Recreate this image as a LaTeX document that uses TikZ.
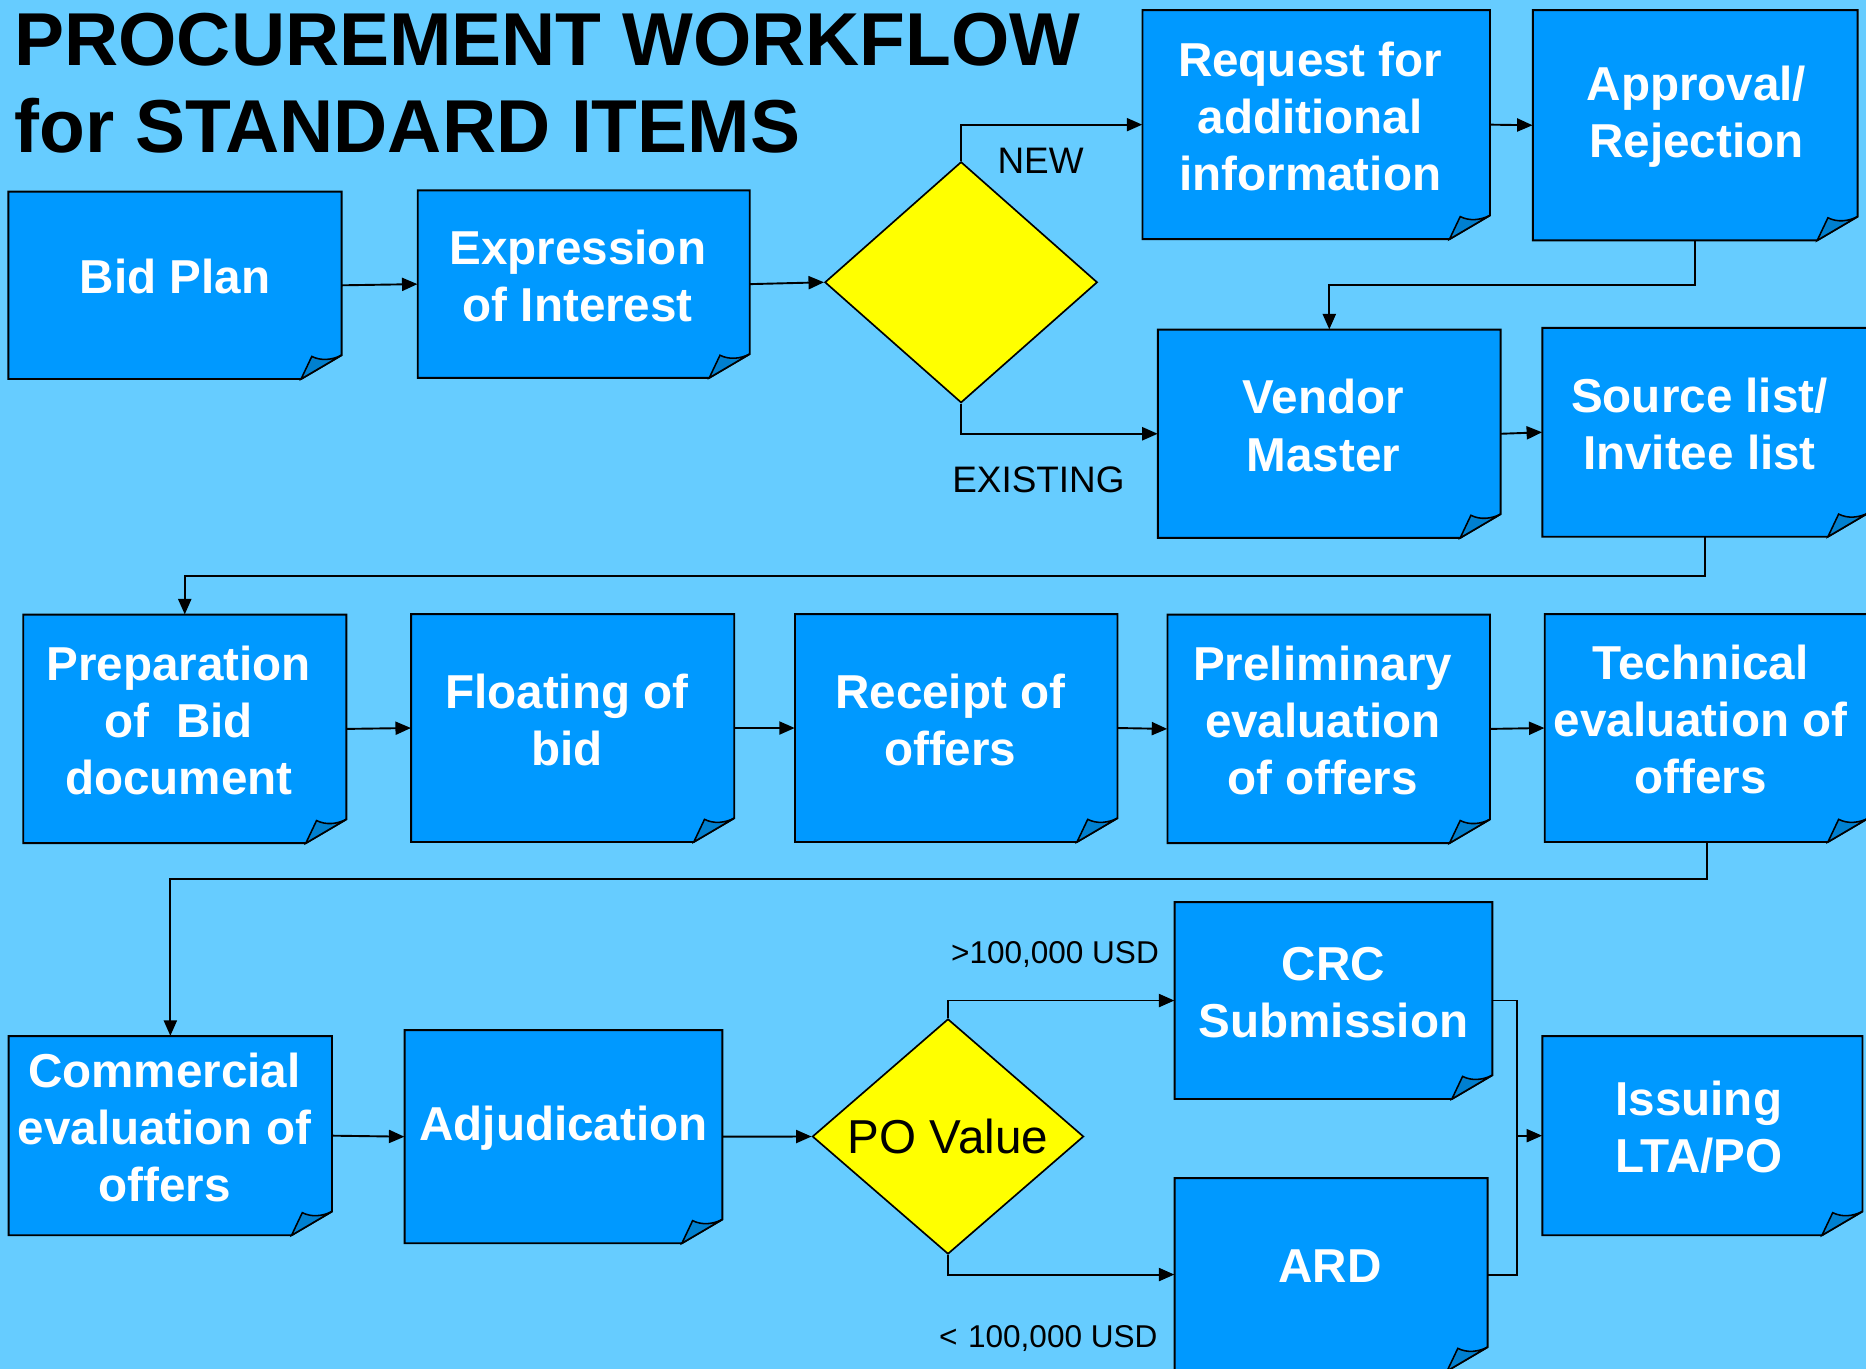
\documentclass[tikz,border=0pt]{standalone}
\usepackage{fontspec}
\setmainfont{Liberation Sans}
\usetikzlibrary{shapes.geometric,arrows.meta}
\definecolor{bg}{RGB}{102,204,255}
\definecolor{boxblue}{RGB}{0,153,255}
\definecolor{folddark}{RGB}{0,128,208}
\definecolor{diayellow}{RGB}{255,255,0}

\tikzset{
 boxline/.style={draw=black, line width=1.6pt, line join=miter},
 foldline/.style={draw=black, line width=1.3pt, fill=folddark},
 boxtext/.style={text=white, font=\bfseries\fontsize{40}{48}\selectfont, align=center, inner sep=0pt},
 boxshape/.style={rectangle, inner sep=0pt, draw=none},
 decision/.style={diamond, draw=black, line width=1.4pt, fill=diayellow, inner sep=0pt},
 arr/.style={draw=black, line width=1.6pt, -{Triangle[length=13pt,width=11pt]}},
 conn/.style={draw=black, line width=1.6pt},
 lbl/.style={font=\fontsize{31}{36}\selectfont, inner sep=0pt, anchor=base west},
 smalllbl/.style={font=\fontsize{26.5}{30}\selectfont, inner sep=0pt, anchor=base west},
 titletext/.style={font=\bfseries\fontsize{63}{73}\selectfont, inner sep=0pt, anchor=base west},
}

% optional arg: horizontal shift of the text
\newcommand{\paperbox}[6][-5]{%
 \draw[boxline,fill=boxblue] (#3,#4) -- (#5,#4) -- (#5,#6-20) -- (#5-34,#6) -- (#3,#6) -- cycle;
 \draw[foldline] (#5-34,#6) -- (#5-25,#6-19) .. controls (#5-17,#6-15) and (#5-8,#6-16) .. (#5,#6-20) -- cycle;
 \node[boxshape, minimum width=#5pt-#3pt, minimum height=#6pt-#4pt] (#2) at ({(#3+#5)/2},{(#4+#6)/2}) {};
 \node[boxtext] (#2-t) at ([xshift=#1pt,yshift=7pt]#2.center) {\paperboxtext};
}

\begin{document}
\begin{tikzpicture}[x=1pt,y=-1pt]
\useasboundingbox (0,0) rectangle (1568,1150);
\clip (0,0) rectangle (1568,1150);
\fill[bg] (0,0) rectangle (1568,1150);

% title
\node[titletext] (title1) at (12,55) {PROCUREMENT WORKFLOW};
\node[titletext] (title2) at (12,128) {for STANDARD ITEMS};

% boxes (text given through \paperboxtext)
\def\paperboxtext{Bid Plan}\paperbox[0]{bid}{7}{161}{287}{318.5}
\def\paperboxtext{Expression\\of Interest}\paperbox{eoi}{351}{160}{630}{317.5}
\def\paperboxtext{Request for\\additional\\information}\paperbox{req}{960}{8.5}{1252}{201}
\def\paperboxtext{Approval/\\Rejection}\paperbox[1]{appr}{1288}{8.5}{1561}{202}
\def\paperboxtext{Vendor\\Master}\paperbox{vendor}{973}{277}{1261}{452}
\def\paperboxtext{Source list/\\Invitee list}\paperbox{source}{1296}{275.5}{1570}{451}
\def\paperboxtext{Preparation\\of~ Bid\\document}\paperbox{prep}{19.5}{516.5}{291}{708.5}
\def\paperboxtext{Floating of\\bid}\paperbox{float}{345.5}{516}{617}{707.5}
\def\paperboxtext{Receipt of\\offers}\paperbox{receipt}{668}{516}{939}{707.5}
\def\paperboxtext{Preliminary\\evaluation\\of offers}\paperbox{prelim}{981}{516.5}{1252}{708.5}
\def\paperboxtext{Technical\\evaluation of\\offers}\paperbox{tech}{1298}{516}{1570}{707.5}
\def\paperboxtext{Commercial\\evaluation of\\offers}\paperbox{comm}{7.3}{870.6}{279}{1038}
\def\paperboxtext{Adjudication}\paperbox[0]{adj}{340}{865.6}{607}{1044.7}
\def\paperboxtext{CRC\\Submission}\paperbox[0]{crc}{987}{758}{1254}{923.5}
\def\paperboxtext{ARD}\paperbox[-1]{ard}{987}{990}{1250}{1152}
\def\paperboxtext{Issuing\\LTA/PO}\paperbox[-3]{iss}{1296}{870.6}{1565}{1038}

% decisions
\node[decision, minimum width=229pt, minimum height=202.5pt] (d1) at (807.6,237.2) {};
\node[decision, minimum width=228pt, minimum height=189pt, font=\fontsize{40}{48}\selectfont] (po) at (796.6,955) {PO Value};

% labels
\node[lbl] (lnew) at (838,145.5) {NEW};
\node[lbl] (lexist) at (800,414) {EXISTING};
\node[smalllbl] (lgt) at (799,809.5) {>100,000 USD};
\node[smalllbl] (llt) at (789,1132) {<\,\,100,000 USD};

% connectors
\draw[arr] (bid.east) -- (eoi.west);
\draw[arr] (eoi.east) -- (d1.west);
\draw[arr] (d1.north) |- (req.west);
\draw[arr] (d1.south) |- (vendor.west);
\draw[arr] (req.east) -- (appr.west);
\draw[arr] (appr.south) -- ++(0,37) -| (vendor.north);
\draw[arr] (vendor.east) -- (source.west);
\draw[arr] (source.south) -- ++(0,33) -| (prep.north);
\draw[arr] (prep.east) -- (float.west);
\draw[arr] (float.east) -- (receipt.west);
\draw[arr] (receipt.east) -- (prelim.west);
\draw[arr] (prelim.east) -- (tech.west);
\draw[arr] (tech.south) -- ++(0,31) -| (comm.north);
\draw[arr] (comm.east) -- (adj.west);
\draw[arr] (adj.east) -- (po.west);
\draw[arr] (po.north) |- (crc.west);
\draw[arr] (po.south) |- (ard.west);
\coordinate (mrg) at (1275,954.3);
\draw[conn] (crc.east) -| (mrg);
\draw[conn] (ard.east) -| (mrg);
\draw[arr] (mrg) -- (iss.west);
\end{tikzpicture}
\end{document}
